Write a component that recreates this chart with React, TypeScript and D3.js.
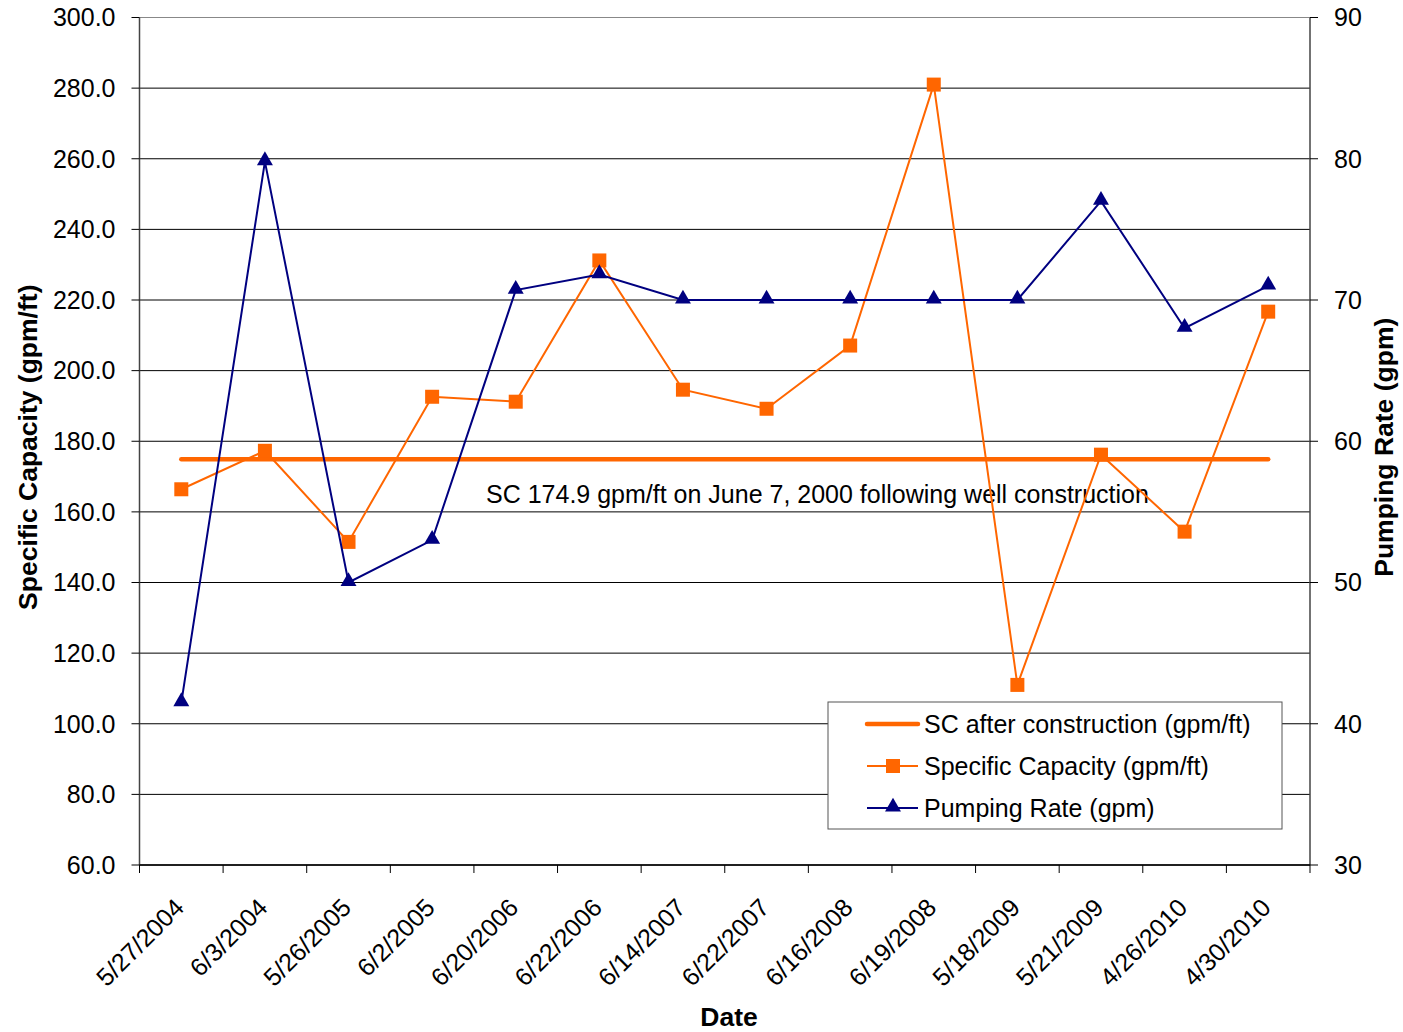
import React from "react";
import * as d3 from "d3";

const dates = ["5/27/2004","6/3/2004","5/26/2005","6/2/2005","6/20/2006","6/22/2006","6/14/2007","6/22/2007","6/16/2008","6/19/2008","5/18/2009","5/21/2009","4/26/2010","4/30/2010"];
const specificCapacity = [166.4,177.3,151.5,192.6,191.2,231.2,194.6,189.2,207.1,281.0,111.0,176.2,154.4,216.7];
const pumpingRate = [41.5,79.8,50,53,70.7,71.8,70,70,70,70,70,77,68,71];
const scAfterConstruction = 174.9;
const leftTicks = [60,80,100,120,140,160,180,200,220,240,260,280,300];
const rightTicks = [30,40,50,60,70,80,90];

const W = 1403, H = 1032;
const L = 139.5, R = 1310, T = 17.5, B = 865;
const ORANGE = "#FF6600";
const NAVY = "#000080";
const FONT = "'Liberation Sans', Arial, sans-serif";
const FS = 25;
const FSB = 26.5;

export default function App() {
  const x = d3.scaleBand<string>().domain(dates).range([L, R]).padding(0);
  const cx = (d: string) => (x(d) as number) + x.bandwidth() / 2;
  const yL = d3.scaleLinear().domain([60, 300]).range([B, T]);
  const yR = d3.scaleLinear().domain([30, 90]).range([B, T]);

  const scLine = d3.line<number>().x((_, i) => cx(dates[i])).y((v) => yL(v))(specificCapacity) as string;
  const prLine = d3.line<number>().x((_, i) => cx(dates[i])).y((v) => yR(v))(pumpingRate) as string;
  const boundaries = dates.map((d) => x(d) as number).concat([R]);
  const tri = d3.symbol().type(d3.symbolTriangle).size(110)() as string;

  const lgX = 828, lgY = 702, lgW = 454, lgH = 127;

  return (
    <svg width={W} height={H} style={{ position: "absolute", left: 0, top: 0, fontFamily: FONT }}>
      <rect width={W} height={H} fill="#fff" />
      {leftTicks.map((t) => (
        <line key={"g" + t} x1={L} x2={R} y1={yL(t)} y2={yL(t)} stroke={t === 300 ? "#888" : "#000"} strokeWidth={1} />
      ))}
      {/* left axis */}
      <line x1={L} x2={L} y1={T} y2={B} stroke="#444" strokeWidth={1.5} />
      {leftTicks.map((t) => (
        <g key={"l" + t}>
          <line x1={L - 8} x2={L} y1={yL(t)} y2={yL(t)} stroke="#000" />
          <text x={L - 24} y={yL(t)} dy="0.35em" textAnchor="end" fontSize={FS} fill="#000">{t.toFixed(1)}</text>
        </g>
      ))}
      {/* right axis */}
      <line x1={R} x2={R} y1={T} y2={B} stroke="#444" strokeWidth={1.5} />
      {rightTicks.map((t) => (
        <g key={"r" + t}>
          <line x1={R} x2={R + 8} y1={yR(t)} y2={yR(t)} stroke="#000" />
          <text x={R + 24} y={yR(t)} dy="0.35em" textAnchor="start" fontSize={FS} fill="#000">{t}</text>
        </g>
      ))}
      {/* x axis */}
      <line x1={L} x2={R} y1={B} y2={B} stroke="#000" strokeWidth={1.5} />
      {boundaries.map((b, i) => (
        <line key={"xt" + i} x1={b} x2={b} y1={B} y2={B + 8} stroke="#000" />
      ))}
      {dates.map((d) => (
        <text key={"xl" + d} transform={`translate(${cx(d) - 2},${B + 38}) rotate(-45)`} textAnchor="end" dy="0.35em" fontSize={FS} fill="#000">{d}</text>
      ))}
      {/* axis titles */}
      <text x={729} y={1026} textAnchor="middle" fontSize={FSB} fontWeight="bold">Date</text>
      <text transform={`translate(37,${(T + B) / 2 + 6}) rotate(-90)`} textAnchor="middle" fontSize={FSB} fontWeight="bold">Specific Capacity (gpm/ft)</text>
      <text transform={`translate(1393,${(T + B) / 2 + 6}) rotate(-90)`} textAnchor="middle" fontSize={FSB} fontWeight="bold">Pumping Rate (gpm)</text>

      {/* SC after construction */}
      <line x1={cx(dates[0])} x2={cx(dates[dates.length - 1])} y1={yL(scAfterConstruction)} y2={yL(scAfterConstruction)} stroke={ORANGE} strokeWidth={4.5} strokeLinecap="round" />
      <text x={486} y={494} dy="0.35em" fontSize={FS} fill="#000">SC 174.9 gpm/ft on June 7, 2000 following well construction</text>

      {/* Specific capacity */}
      <path d={scLine} fill="none" stroke={ORANGE} strokeWidth={2} />
      {specificCapacity.map((v, i) => (
        <rect key={"s" + i} x={cx(dates[i]) - 7} y={yL(v) - 7} width={14} height={14} fill={ORANGE} />
      ))}
      {/* Pumping rate */}
      <path d={prLine} fill="none" stroke={NAVY} strokeWidth={2} />
      {pumpingRate.map((v, i) => (
        <path key={"p" + i} d={tri} transform={`translate(${cx(dates[i])},${yR(v) - 1})`} fill={NAVY} />
      ))}

      {/* legend */}
      <rect x={lgX} y={lgY} width={lgW} height={lgH} fill="#fff" stroke="#555" strokeWidth={1} />
      <line x1={867} x2={918} y1={724} y2={724} stroke={ORANGE} strokeWidth={4.5} strokeLinecap="round" />
      <text x={924} y={724} dy="0.35em" fontSize={FS}>SC after construction (gpm/ft)</text>
      <line x1={867} x2={918} y1={766} y2={766} stroke={ORANGE} strokeWidth={2} />
      <rect x={886} y={759} width={14} height={14} fill={ORANGE} />
      <text x={924} y={766} dy="0.35em" fontSize={FS}>Specific Capacity (gpm/ft)</text>
      <line x1={867} x2={918} y1={808} y2={808} stroke={NAVY} strokeWidth={2} />
      <path d={tri} transform={`translate(893,807)`} fill={NAVY} />
      <text x={924} y={808} dy="0.35em" fontSize={FS}>Pumping Rate (gpm)</text>
    </svg>
  );
}
